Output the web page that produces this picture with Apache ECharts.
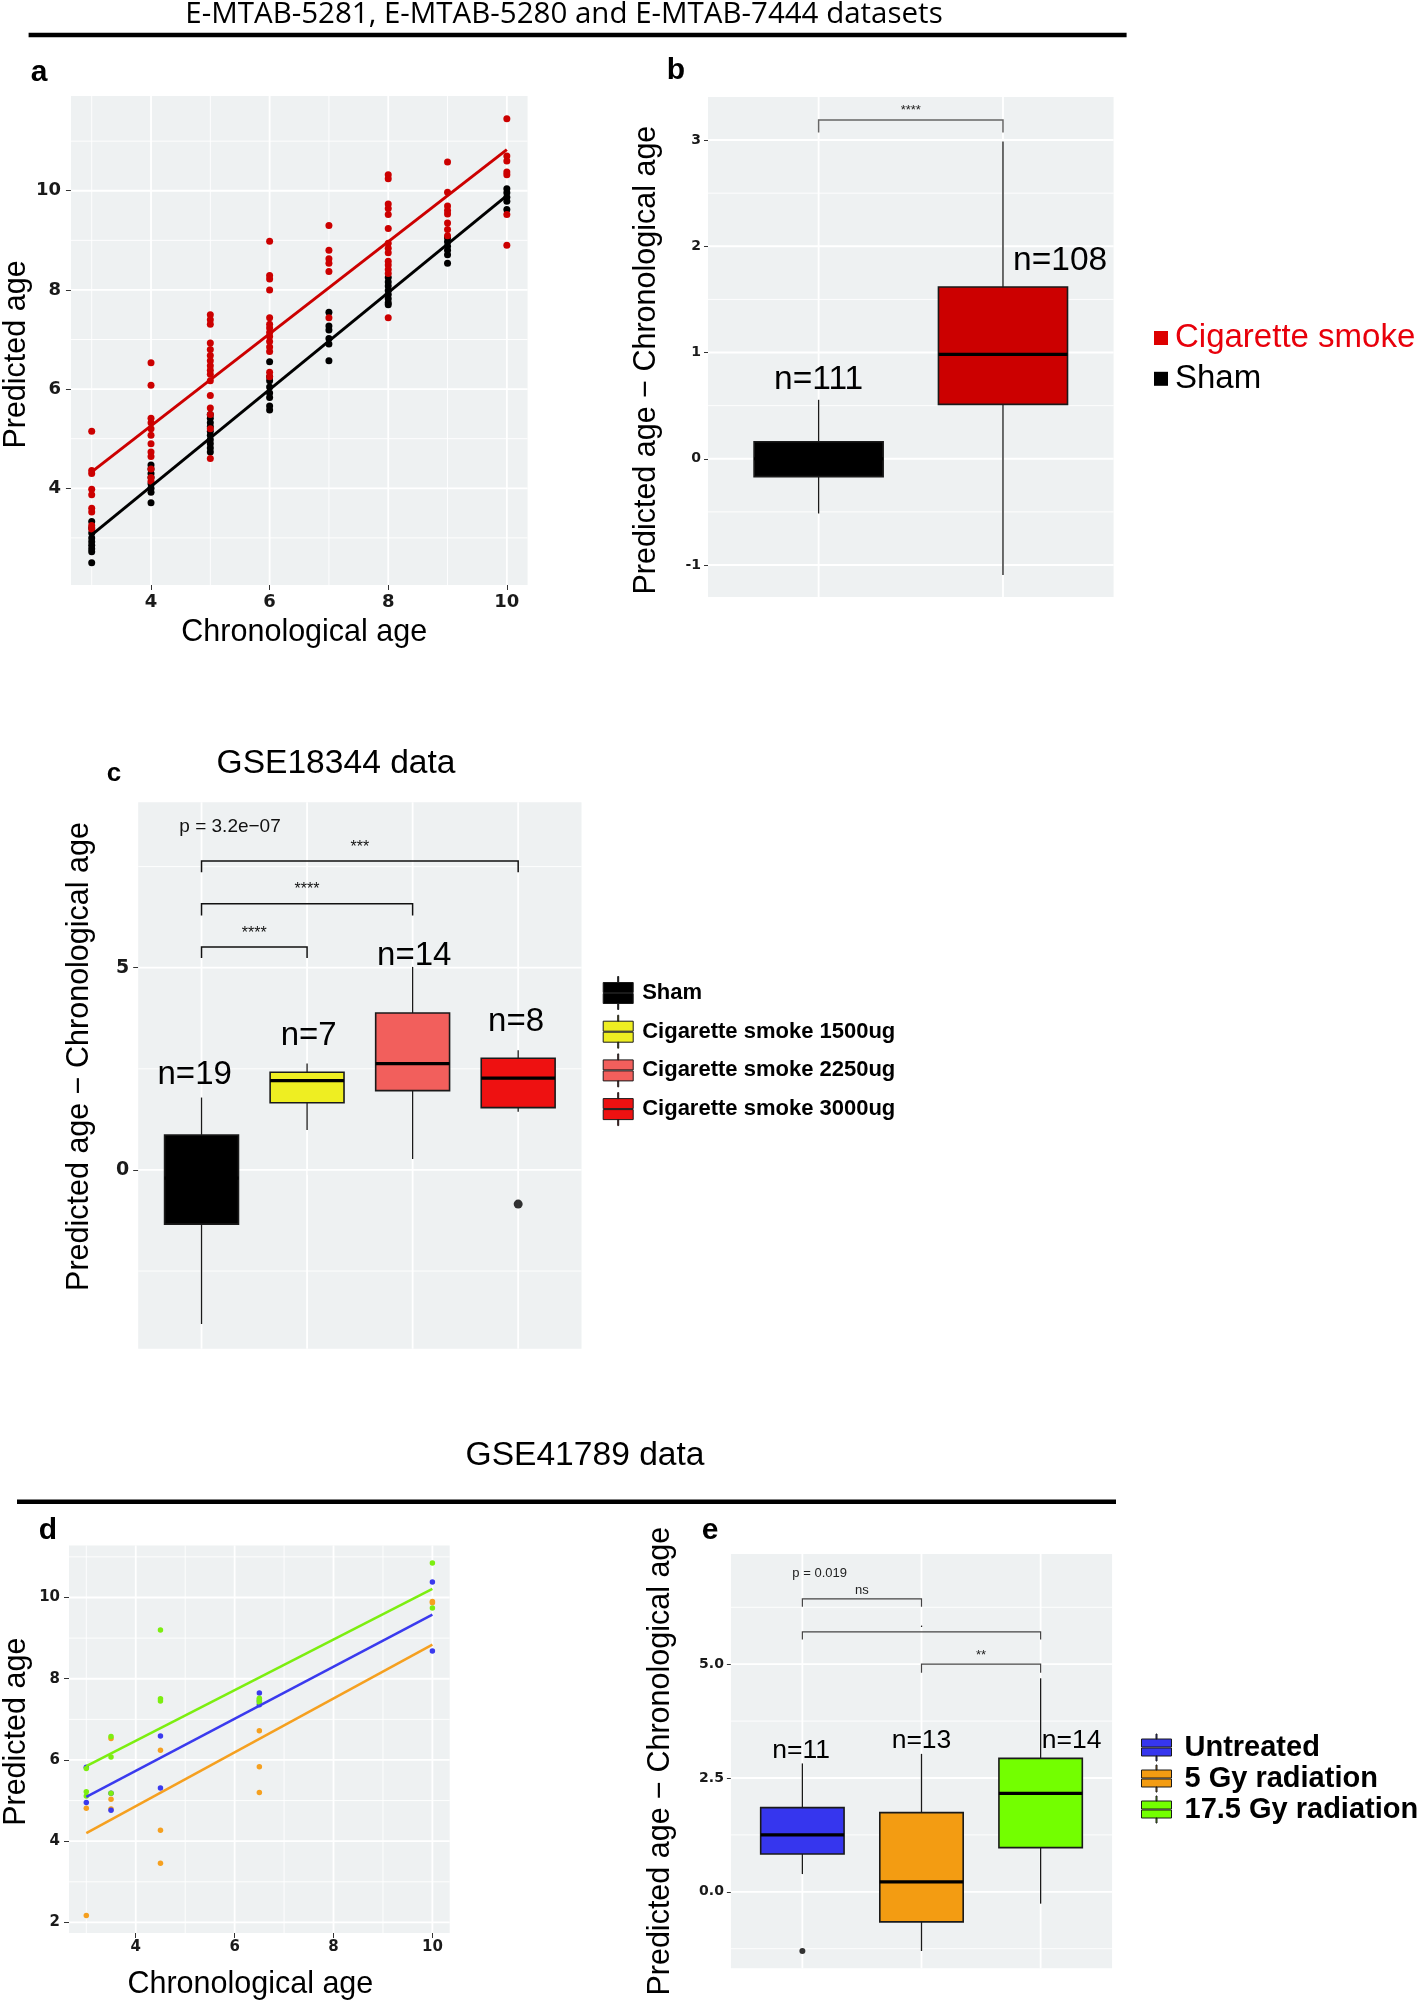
<!DOCTYPE html>
<html><head><meta charset="utf-8">
<script src="https://cdn.jsdelivr.net/npm/echarts@6/dist/echarts.min.js"></script>
<style>html,body{margin:0;padding:0;background:#fff}#c{width:1418px;height:2001px}</style>
</head><body><div id="c"></div>
<script>
// ---------------- DATA ----------------
// Panel a: predicted vs chronological age (E-MTAB datasets)
const agesA = [3, 4, 5, 6, 7, 8, 9, 10];
const smokePredA = [
  [5.15, 4.36, 4.30, 3.98, 3.87, 3.60, 3.52, 3.25, 3.18],
  [6.53, 6.08, 5.41, 5.32, 5.20, 5.07, 4.90, 4.73, 4.64, 4.39, 4.22, 4.14],
  [7.50, 7.40, 7.31, 6.93, 6.80, 6.68, 6.57, 6.47, 6.38, 6.30, 6.17, 5.87, 5.62, 5.49, 5.20, 4.60],
  [8.98, 8.29, 8.22, 8.00, 7.44, 7.31, 7.23, 7.14, 7.06, 6.96, 6.85, 6.76, 6.34, 6.25],
  [9.30, 8.80, 8.63, 8.54, 8.37, 7.44],
  [10.32, 10.24, 9.73, 9.64, 9.52, 9.24, 8.94, 8.84, 8.75, 8.58, 8.50, 8.41, 8.33, 7.44],
  [10.58, 9.97, 9.69, 9.60, 9.53, 9.35, 9.22, 9.09],
  [11.45, 10.70, 10.60, 10.38, 10.32, 9.52, 8.90]
];
const shamPredA = [
  [3.33, 3.20, 3.10, 3.00, 2.92, 2.85, 2.78, 2.72, 2.50],
  [4.47, 4.39, 4.30, 4.22, 4.09, 4.00, 3.92, 3.71],
  [5.49, 5.41, 5.32, 5.24, 5.15, 5.07, 4.98, 4.90, 4.81, 4.73],
  [6.55, 6.25, 6.17, 6.04, 5.92, 5.83, 5.66, 5.58],
  [7.55, 7.27, 7.19, 7.02, 6.91, 6.57],
  [8.25, 8.16, 8.08, 7.99, 7.91, 7.82, 7.74, 7.70],
  [9.05, 8.97, 8.88, 8.80, 8.71, 8.54],
  [10.04, 9.96, 9.87, 9.79, 9.62]
];
const smokeFitA = [[3, 4.33], [10, 10.83]];
const shamFitA = [[3, 3.06], [10, 9.90]];
const aXTicks = [4, 6, 8, 10], aXMinor = [3, 5, 7, 9];
const aYTicks = [4, 6, 8, 10], aYMinor = [3, 5, 7, 9, 11];

// Panel b: boxplot [low whisker, Q1, median, Q3, high whisker]
const bGroups = ['Sham', 'Cigarette smoke'];
const bStats = [[-0.515, -0.168, 0.00, 0.160, 0.555], [-1.094, 0.512, 0.983, 1.616, 2.987]];
const bCountText = ['n=111', 'n=108'];
const bCountPos = [[1, 0.74], [2.31, 1.865]];
const bBrackets = [[1, 2, 3.188, 3.07]];
const bSigText = ['****'];
const bSigPos = [[1.5, 3.28]];
const bYTicks = [-1, 0, 1, 2, 3], bYMinor = [-0.5, 0.5, 1.5, 2.5];

// Panel c: GSE18344
const cGroups = ['Sham', 'Cigarette smoke 1500ug', 'Cigarette smoke 2250ug', 'Cigarette smoke 3000ug'];
const cStats = [
  [-3.81, -1.34, -0.20, 0.865, 1.79],
  [0.99, 1.66, 2.21, 2.415, 2.63],
  [0.27, 1.96, 2.63, 3.88, 5.02],
  [1.44, 1.54, 2.27, 2.76, 2.96]
];
const cOutliers = [[4, -0.845]];
const cCountText = ['n=19', 'n=7', 'n=14', 'n=8'];
const cCountPos = [[0.935, 2.36], [2.015, 3.31], [3.015, 5.29], [3.98, 3.65]];
const cBrackets = [[1, 2, 5.51, 5.24], [1, 3, 6.58, 6.29], [1, 4, 7.64, 7.36]];
const cSigText = ['****', '****', '***'];
const cSigPos = [[1.5, 5.84], [2, 6.92], [2.5, 7.96]];
const cPText = ['p = 3.2e\u221207'];
const cPPos = [[1.27, 8.49]];
const cYTicks = [0, 5], cYMinor = [-2.5, 2.5, 7.5];

// Panel d: GSE41789 predicted vs chronological
const untreatedD = [[3, 5.82], [3, 4.95], [3.5, 4.76], [3.5, 5.18], [4.5, 6.59], [4.5, 5.31], [6.5, 7.65], [6.5, 7.36], [6.5, 7.45], [10, 10.38], [10, 8.68]];
const gy5D = [[3, 4.81], [3, 2.17], [3.5, 6.53], [3.5, 5.03], [3.5, 4.79], [4.5, 6.24], [4.5, 4.27], [4.5, 3.46], [6.5, 6.72], [6.5, 5.83], [6.5, 5.20], [10, 9.87], [10, 9.90]];
const gy17D = [[3, 5.79], [3, 5.22], [3, 5.11], [3.5, 6.58], [3.5, 6.07], [3.5, 5.18], [4.5, 9.20], [4.5, 7.51], [4.5, 7.45], [6.5, 7.52], [6.5, 7.42], [6.5, 7.48], [10, 10.85], [10, 9.74]];
const untreatedFitD = [[3, 5.09], [10, 9.58]];
const gy5FitD = [[3, 4.20], [10, 8.84]];
const gy17FitD = [[3, 5.85], [10, 10.21]];
const dXTicks = [4, 6, 8, 10], dXMinor = [3, 5, 7, 9];
const dYTicks = [2, 4, 6, 8, 10], dYMinor = [3, 5, 7, 9, 11];

// Panel e: GSE41789 boxplot
const eGroups = ['Untreated', '5 Gy radiation', '17.5 Gy radiation'];
const eStats = [
  [0.39, 0.83, 1.25, 1.85, 2.82],
  [-1.30, -0.66, 0.22, 1.74, 3.03],
  [-0.26, 0.97, 2.16, 2.93, 4.69]
];
const eOutliers = [[1, -1.30]];
const eCountText = ['n=11', 'n=13', 'n=14'];
const eCountPos = [[0.99, 3.11], [2.0, 3.32], [3.26, 3.32]];
const eBrackets = [[1, 2, 6.435, 6.26], [1, 3, 5.71, 5.54], [2, 3, 5.0, 4.81]];
const eSigText = ['ns', '.', '**'];
const eSigPos = [[1.5, 6.63], [2, 5.89], [2.5, 5.2]];
const ePText = ['p = 0.019'];
const ePPos = [[1.145, 6.99]];
const eYTicks = [0, 2.5, 5], eYMinor = [-1.25, 1.25, 3.75, 6.25];

// ---------------- STYLE ----------------
const BG = '#EEF1F2';
const FONT = '"Liberation Sans", Arial, Helvetica, sans-serif';
const TFONT = '"DejaVu Sans", Verdana, sans-serif';
const RED = '#CC0000';
const cColors = ['#000000', '#EEEE22', '#F25F5C', '#EE1111'];
const eColors = ['#3636EE', '#F39C12', '#73FF00'];
const dColors = ['#3A3AEE', '#F5A020', '#7CEE10'];
const KEY_C = 'path://M14.5,0h1v6h-1zM0,6h30v10h-30zM0,17h30v10h-30zM14.5,27h1v6h-1z';
const KEY_E = 'path://M14.5,0h1v5h-1zM0,5h30v8h-30zM0,14h30v8h-30zM14.5,22h1v5h-1z';

// ---------------- HELPERS ----------------
function gridLines(ax, xMajor, xMinor, yMajor, yMinor) {
  const data = [];
  xMinor.forEach(v => data.push([1, v]));
  yMinor.forEach(v => data.push([3, v]));
  xMajor.forEach(v => data.push([0, v]));
  yMajor.forEach(v => data.push([2, v]));
  return {
    type: 'custom', xAxisIndex: ax, yAxisIndex: ax, silent: true, z: 1, data,
    renderItem: (params, api) => {
      const t = api.value(0), v = api.value(1), cs = params.coordSys;
      const w = (t === 0 || t === 2) ? 1.8 : 0.9;
      if (t < 2) {
        const px = api.coord([v, 0])[0];
        return { type: 'line', shape: { x1: px, y1: cs.y, x2: px, y2: cs.y + cs.height }, style: { stroke: '#ffffff', lineWidth: w } };
      }
      const py = api.coord([0, v])[1];
      return { type: 'line', shape: { x1: cs.x, y1: py, x2: cs.x + cs.width, y2: py }, style: { stroke: '#ffffff', lineWidth: w } };
    }
  };
}
function boxSeries(ax, name, idx, stats, color, half) {
  return {
    type: 'custom', name, xAxisIndex: ax, yAxisIndex: ax, z: 3,
    itemStyle: { color },
    data: [[idx].concat(stats)],
    encode: { x: 0, y: [1, 2, 3, 4, 5] },
    renderItem: (params, api) => {
      const x = api.value(0), lo = api.value(1), q1 = api.value(2), med = api.value(3), q3 = api.value(4), hi = api.value(5);
      const tl = api.coord([x - half, q3]), br = api.coord([x + half, q1]);
      const pLo = api.coord([x, lo]), pHi = api.coord([x, hi]);
      const m1 = api.coord([x - half, med]), m2 = api.coord([x + half, med]);
      return { type: 'group', children: [
        { type: 'line', shape: { x1: pLo[0], y1: pLo[1], x2: pLo[0], y2: br[1] }, style: { stroke: '#1a1a1a', lineWidth: 1.3 } },
        { type: 'line', shape: { x1: pHi[0], y1: pHi[1], x2: pHi[0], y2: tl[1] }, style: { stroke: '#1a1a1a', lineWidth: 1.3 } },
        { type: 'rect', shape: { x: tl[0], y: tl[1], width: br[0] - tl[0], height: br[1] - tl[1] }, style: { fill: color, stroke: '#1a1a1a', lineWidth: 1.6 } },
        { type: 'line', shape: { x1: m1[0], y1: m1[1], x2: m2[0], y2: m2[1] }, style: { stroke: '#000', lineWidth: 3.2 } }
      ] };
    }
  };
}
function bracketSeries(ax, data, color, width) {
  return {
    type: 'custom', xAxisIndex: ax, yAxisIndex: ax, silent: true, z: 5, data,
    renderItem: (params, api) => {
      const x1 = api.value(0), x2 = api.value(1), y = api.value(2), ty = api.value(3);
      return { type: 'polyline', shape: { points: [api.coord([x1, ty]), api.coord([x1, y]), api.coord([x2, y]), api.coord([x2, ty])] },
        style: { stroke: color, lineWidth: width, fill: 'none' } };
    }
  };
}
function textSeries(ax, pos, texts, font, color) {
  return {
    type: 'custom', xAxisIndex: ax, yAxisIndex: ax, silent: true, z: 6, data: pos,
    renderItem: (params, api) => {
      const p = api.coord([api.value(0), api.value(1)]);
      return { type: 'text', x: p[0], y: p[1], style: { text: texts[params.dataIndex], font, fill: color,
        align: 'center', verticalAlign: 'middle', textAlign: 'center', textVerticalAlign: 'middle' } };
    }
  };
}
function tickLabel(ticks, size, margin, extra) {
  return Object.assign({ customValues: ticks, fontFamily: TFONT, fontWeight: 'bold', fontSize: size, color: '#1a1a1a', margin }, extra || {});
}
function nameStyle(pad) {
  return { fontFamily: FONT, fontSize: 30.5, color: '#000', padding: pad };
}
function valueAxis(gi, min, max, ticks, opts) {
  return Object.assign({
    type: 'value', gridIndex: gi, min, max,
    axisLine: { show: false }, splitLine: { show: false },
    axisTick: { show: !!ticks, length: 5, lineStyle: { color: '#333', width: 1 }, customValues: ticks || [] },
    axisLabel: { show: !!ticks, customValues: ticks || [], fontFamily: TFONT, fontWeight: 'bold', fontSize: 16, color: '#1a1a1a', margin: 8 },
    nameTextStyle: nameStyle([0, 0, 0, 0]),
    nameLocation: 'middle'
  }, opts || {});
}
const pairs = (ages, preds) => ages.flatMap((a, i) => preds[i].map(v => [a, v]));

// ---------------- CHART ----------------
const chart = echarts.init(document.getElementById('c'), null, { renderer: 'canvas', width: 1418, height: 2001 });
const gridBase = { show: true, backgroundColor: BG, borderWidth: 0 };

const series = [
  gridLines(0, aXTicks, aXMinor, aYTicks, aYMinor),
  gridLines(1, [1, 2], [], bYTicks, bYMinor),
  gridLines(2, [1, 2, 3, 4], [], cYTicks, cYMinor),
  gridLines(3, dXTicks, dXMinor, dYTicks, dYMinor),
  gridLines(4, [1, 2, 3], [], eYTicks, eYMinor),
  // a
  { type: 'scatter', name: 'Sham', xAxisIndex: 0, yAxisIndex: 0, z: 3, symbolSize: 7, itemStyle: { color: '#000', opacity: 1 }, data: pairs(agesA, shamPredA) },
  { type: 'scatter', name: 'Cigarette smoke', xAxisIndex: 0, yAxisIndex: 0, z: 3, symbolSize: 7, itemStyle: { color: RED, opacity: 1 }, data: pairs(agesA, smokePredA) },
  { type: 'line', name: 'Cigarette smoke', xAxisIndex: 0, yAxisIndex: 0, z: 4, symbol: 'none', lineStyle: { color: RED, width: 3 }, data: smokeFitA },
  { type: 'line', name: 'Sham', xAxisIndex: 0, yAxisIndex: 0, z: 4, symbol: 'none', lineStyle: { color: '#000', width: 3 }, data: shamFitA },
  // b
  boxSeries(1, bGroups[0], 1, bStats[0], '#000000', 0.35),
  boxSeries(1, bGroups[1], 2, bStats[1], RED, 0.35),
  bracketSeries(1, bBrackets, '#666', 1.5),
  textSeries(1, bSigPos, bSigText, '13px ' + FONT, '#222'),
  textSeries(1, bCountPos, bCountText, '33.5px ' + FONT, '#000'),
  // c
  ...cGroups.map((g, i) => boxSeries(2, g, i + 1, cStats[i], cColors[i], 0.35)),
  { type: 'scatter', xAxisIndex: 2, yAxisIndex: 2, z: 4, symbolSize: 9, itemStyle: { color: '#000' }, data: cOutliers },
  bracketSeries(2, cBrackets, '#111', 1.5),
  textSeries(2, cSigPos, cSigText, '16px ' + FONT, '#111'),
  textSeries(2, cPPos, cPText, '19px ' + FONT, '#111'),
  textSeries(2, cCountPos, cCountText, '33px ' + FONT, '#000'),
  // d
  { type: 'scatter', name: '5 Gy radiation', xAxisIndex: 3, yAxisIndex: 3, z: 3, symbolSize: 5.5, itemStyle: { color: dColors[1], opacity: 1 }, data: gy5D },
  { type: 'scatter', name: 'Untreated', xAxisIndex: 3, yAxisIndex: 3, z: 3, symbolSize: 5.5, itemStyle: { color: dColors[0], opacity: 1 }, data: untreatedD },
  { type: 'scatter', name: '17.5 Gy radiation', xAxisIndex: 3, yAxisIndex: 3, z: 3, symbolSize: 5.5, itemStyle: { color: dColors[2], opacity: 1 }, data: gy17D },
  { type: 'line', name: '5 Gy radiation', xAxisIndex: 3, yAxisIndex: 3, z: 4, symbol: 'none', lineStyle: { color: dColors[1], width: 2.5 }, data: gy5FitD },
  { type: 'line', name: 'Untreated', xAxisIndex: 3, yAxisIndex: 3, z: 4, symbol: 'none', lineStyle: { color: dColors[0], width: 2.5 }, data: untreatedFitD },
  { type: 'line', name: '17.5 Gy radiation', xAxisIndex: 3, yAxisIndex: 3, z: 4, symbol: 'none', lineStyle: { color: dColors[2], width: 2.5 }, data: gy17FitD },
  // e
  ...eGroups.map((g, i) => boxSeries(4, g, i + 1, eStats[i], eColors[i], 0.35)),
  { type: 'scatter', xAxisIndex: 4, yAxisIndex: 4, z: 4, symbolSize: 6, itemStyle: { color: '#000' }, data: eOutliers },
  bracketSeries(4, eBrackets, '#444', 1.2),
  textSeries(4, eSigPos, eSigText, '13px ' + FONT, '#222'),
  textSeries(4, ePPos, ePText, '13px ' + FONT, '#222'),
  textSeries(4, eCountPos, eCountText, '26.5px ' + FONT, '#000')
];

const txt = (text, x, y, font) => ({ type: 'text', x, y, silent: true,
  style: { text, font, fill: '#000', align: 'center', verticalAlign: 'middle', textAlign: 'center', textVerticalAlign: 'middle' } });

const option = {
  animation: false,
  backgroundColor: '#ffffff',
  grid: [
    Object.assign({ left: 60.6, top: 96, width: 467, height: 489 }, gridBase),
    Object.assign({ left: 708, top: 97.1, width: 405.6, height: 500 }, gridBase),
    Object.assign({ left: 138.2, top: 802.3, width: 443.3, height: 546.4 }, gridBase),
    Object.assign({ left: 66, top: 1545.5, width: 383.7, height: 391.8 }, gridBase),
    Object.assign({ left: 730.9, top: 1554, width: 381.2, height: 414.3 }, gridBase)
  ],
  xAxis: [
    valueAxis(0, 2.65, 10.35, aXTicks, { name: 'Chronological age', nameGap: 32, nameTextStyle: nameStyle([0, 0, 0, 10]),
      axisLabel: tickLabel(aXTicks, 18, 8) }),
    valueAxis(1, 0.4, 2.6, null),
    valueAxis(2, 0.4, 4.6, null, { axisTick: { show: true, length: 5, lineStyle: { color: '#333' }, customValues: [1, 2, 3, 4] } }),
    valueAxis(3, 2.65, 10.35, dXTicks, { name: 'Chronological age', nameGap: 36, nameTextStyle: nameStyle([0, 18, 0, 0]),
      axisLabel: tickLabel(dXTicks, 15, 7) }),
    valueAxis(4, 0.4, 3.6, null)
  ],
  yAxis: [
    valueAxis(0, 2.05, 11.91, aYTicks, { name: 'Predicted age', nameGap: 36, nameTextStyle: nameStyle([0, 28, 0, 0]),
      axisLabel: tickLabel(aYTicks, 18, 10) }),
    valueAxis(1, -1.302, 3.404, bYTicks, { name: 'Predicted age \u2212 Chronological age', nameGap: 46, nameTextStyle: nameStyle([0, 26, 0, 0]),
      axisTick: { show: true, length: 4, lineStyle: { color: '#333' }, customValues: bYTicks },
      axisLabel: tickLabel(bYTicks, 14, 7) }),
    valueAxis(2, -4.42, 9.09, cYTicks, { name: 'Predicted age \u2212 Chronological age', nameGap: 43, nameTextStyle: nameStyle([0, 0, 0, 38]),
      axisLabel: tickLabel(cYTicks, 19, 9) }),
    valueAxis(3, 1.74, 11.28, dYTicks, { name: 'Predicted age', nameGap: 37, nameTextStyle: nameStyle([0, 0, 0, 15]),
      axisLabel: tickLabel(dYTicks, 15, 9) }),
    valueAxis(4, -1.68, 7.42, eYTicks, { name: 'Predicted age \u2212 Chronological age', nameGap: 55,
      axisTick: { show: true, length: 4, lineStyle: { color: '#333' }, customValues: eYTicks },
      axisLabel: tickLabel(eYTicks, 14, 7, { formatter: v => Number(v).toFixed(1) }) })
  ],
  legend: [
    { orient: 'vertical', left: 1149, top: 316.5, itemWidth: 14, itemHeight: 14, itemGap: 7.8, selectedMode: false, icon: 'rect',
      textStyle: { fontFamily: FONT, fontSize: 33, color: '#000', padding: [0, 0, 0, 2] },
      data: [
        { name: 'Cigarette smoke', itemStyle: { color: '#DD0000', borderWidth: 0 }, textStyle: { color: '#E8000B' } },
        { name: 'Sham', itemStyle: { color: '#000', borderWidth: 0 } }
      ] },
    { orient: 'vertical', left: 597.7, top: 971, itemWidth: 30, itemHeight: 33, itemGap: 4.7, selectedMode: false,
      textStyle: { fontFamily: FONT, fontWeight: 'bold', fontSize: 22, color: '#000', padding: [0, 0, 0, 4] },
      data: cGroups.map((g, i) => ({ name: g, icon: KEY_C, itemStyle: { color: cColors[i], borderColor: '#1a1a1a', borderWidth: 1 } })) },
    { orient: 'vertical', left: 1136, top: 1728, itemWidth: 30, itemHeight: 27, itemGap: 2, selectedMode: false,
      textStyle: { fontFamily: FONT, fontWeight: 'bold', fontSize: 29, color: '#000', padding: [0, 0, 0, 8] },
      data: eGroups.map((g, i) => ({ name: g, icon: KEY_E, itemStyle: { color: eColors[i], borderColor: '#1a1a1a', borderWidth: 1 } })) }
  ],
  graphic: [
    txt('E-MTAB-5281, E-MTAB-5280 and E-MTAB-7444 datasets', 564, 15, '29.5px "Open Sans", "Noto Sans", sans-serif'),
    { type: 'rect', silent: true, shape: { x: 28.6, y: 32.8, width: 1098, height: 4.5 }, style: { fill: '#000' } },
    txt('GSE18344 data', 336, 764, '33.6px ' + FONT),
    txt('GSE41789 data', 585, 1456, '33.6px ' + FONT),
    { type: 'rect', silent: true, shape: { x: 17, y: 1499.5, width: 1099, height: 4.5 }, style: { fill: '#000' } },
    txt('a', 39, 73, 'bold 30px ' + FONT),
    txt('b', 676, 71, 'bold 30px ' + FONT),
    txt('c', 114, 774, 'bold 26px ' + FONT),
    txt('d', 48, 1531, 'bold 30px ' + FONT),
    txt('e', 710, 1531, 'bold 30px ' + FONT)
  ],
  series
};
chart.setOption(option);
</script></body></html>
